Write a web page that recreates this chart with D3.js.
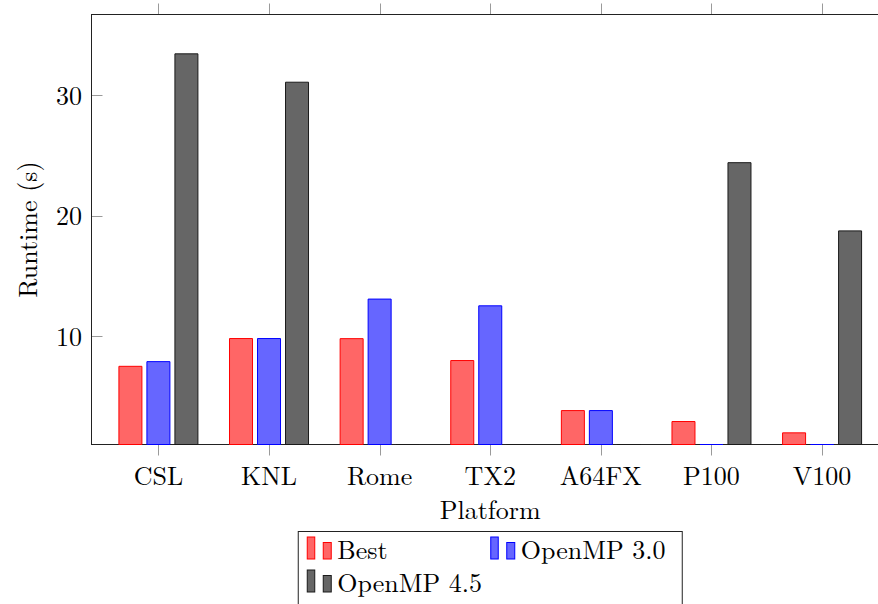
<!DOCTYPE html>
<html>
<head>
<meta charset="utf-8">
<script src="https://cdn.jsdelivr.net/npm/d3@7"></script>
<style>
  html, body { margin: 0; padding: 0; background: #fff; }
  svg { display: block; }
</style>
</head>
<body>
<svg id="chart" width="878" height="604"></svg>
<script>
// ---- data ----
const categories = ["CSL", "KNL", "Rome", "TX2", "A64FX", "P100", "V100"];
const seriesNames = ["Best", "OpenMP 3.0", "OpenMP 4.5"];
const best   = [7.48, 9.79, 9.78, 7.96, 3.80, 2.89, 1.95];
const omp30  = [7.87, 9.79, 13.07, 12.51, 3.80, 0, 0];
const omp45  = [33.46, 31.1, 0, 0, 0, 24.41, 18.74];
const yTicks = [10, 20, 30];
const yDomain = [0.98, 36.73];

// ---- styles ----
const fills   = ["#ff6666", "#6666ff", "#666666"];
const strokes = ["#ff0000", "#0000ff", "#1a1a1a"];
const FONT = 26;
const FAMILY = "'Latin Modern Roman', 'FreeSerif', 'Liberation Serif', serif";

const svg = d3.select("#chart");
const L = 91.5, R = 889, T = 14.5, B = 444.5;

const x = d3.scalePoint().domain(categories).range([L, R]).padding(0.605);
const off = d3.scalePoint().domain(seriesNames).range([-28, 28]);
const barW = 23;
const y = d3.scaleLinear().domain(yDomain).range([B, T]);

const allSeries = [best, omp30, omp45];

function txt(sel) {
  return sel.style("font-family", FAMILY).style("font-size", FONT + "px").attr("fill", "#000");
}

// frame
svg.append("rect")
  .attr("x", L).attr("y", T).attr("width", R - L).attr("height", B - T)
  .attr("fill", "none").attr("stroke", "#222").attr("stroke-width", 1);

// bars
allSeries.forEach((vals, si) => {
  svg.append("g").selectAll("path")
    .data(vals.map((v, i) => ({ c: categories[i], v })))
    .join("path")
    .attr("d", d => {
      const cx = x(d.c) + off(seriesNames[si]);
      const x0 = cx - barW / 2, x1 = cx + barW / 2;
      const top = y(Math.max(d.v, yDomain[0]));
      const bot = y(yDomain[0]);
      return `M${x0},${bot}H${x1}V${top}H${x0}Z`;
    })
    .attr("fill", fills[si])
    .attr("stroke", strokes[si])
    .attr("stroke-width", 1);
});

// ticks
const tickColor = "#9a9a9a";
const g = svg.append("g");
g.selectAll("line.xb").data(categories).join("line")
  .attr("x1", d => Math.round(x(d)) + 0.5).attr("x2", d => Math.round(x(d)) + 0.5)
  .attr("y1", B + 0.5).attr("y2", B + 11).attr("stroke", tickColor);
g.selectAll("line.xt").data(categories).join("line")
  .attr("x1", d => Math.round(x(d)) + 0.5).attr("x2", d => Math.round(x(d)) + 0.5)
  .attr("y1", T - 0.5).attr("y2", T - 11).attr("stroke", tickColor);
g.selectAll("line.yl").data(yTicks).join("line")
  .attr("x1", L + 0.5).attr("x2", L + 11)
  .attr("y1", d => Math.round(y(d)) + 0.5).attr("y2", d => Math.round(y(d)) + 0.5)
  .attr("stroke", tickColor);
g.selectAll("line.yr").data(yTicks).join("line")
  .attr("x1", R - 0.5).attr("x2", R - 11)
  .attr("y1", d => Math.round(y(d)) + 0.5).attr("y2", d => Math.round(y(d)) + 0.5)
  .attr("stroke", tickColor);

// tick labels
svg.append("g").selectAll("text").data(categories).join("text")
  .call(txt)
  .attr("x", d => x(d)).attr("y", B + 40.5)
  .attr("text-anchor", "middle")
  .text(d => d);
svg.append("g").selectAll("text").data(yTicks).join("text")
  .call(txt)
  .attr("x", L - 9.5).attr("y", d => y(d) + 9.5)
  .attr("text-anchor", "end")
  .text(d => d);

// axis titles
svg.append("text").call(txt)
  .attr("x", (L + R) / 2).attr("y", 519.3)
  .attr("text-anchor", "middle")
  .text("Platform");
svg.append("text").call(txt)
  .attr("transform", `translate(36.5,${(T + B) / 2}) rotate(-90)`)
  .attr("text-anchor", "middle")
  .text("Runtime (s)");

// legend
const lg = svg.append("g");
const lgW = 384;
const lgX = (L + R) / 2 - lgW / 2;
lg.append("rect").attr("x", lgX).attr("y", 531.5).attr("width", lgW).attr("height", 120)
  .attr("fill", "#fff").attr("stroke", "#222").attr("stroke-width", 1);
const entryPos = [[lgX + 9, 559], [lgX + 192.5, 559], [lgX + 9, 592]];
seriesNames.forEach((name, si) => {
  const [ex, ey] = entryPos[si];
  const eg = lg.append("g");
  eg.append("rect").attr("x", ex).attr("y", ey - 22).attr("width", 7.5).attr("height", 22)
    .attr("fill", fills[si]).attr("stroke", strokes[si]).attr("stroke-width", 1);
  eg.append("rect").attr("x", ex + 16).attr("y", ey - 16.5).attr("width", 8).attr("height", 16.5)
    .attr("fill", fills[si]).attr("stroke", strokes[si]).attr("stroke-width", 1);
  eg.append("text").call(txt).attr("x", ex + 30).attr("y", ey).text(name);
});
</script>
</body>
</html>
